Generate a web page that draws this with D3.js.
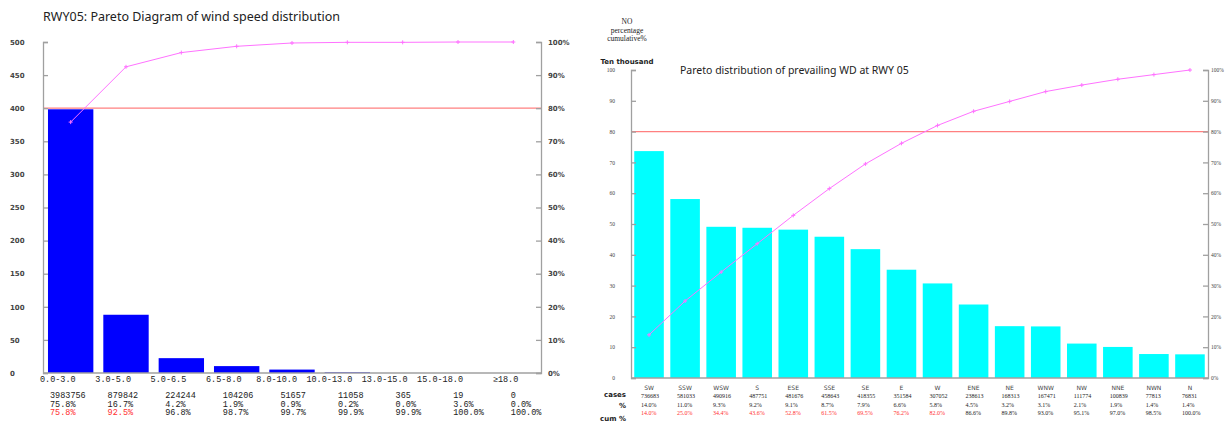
<!DOCTYPE html>
<html>
<head>
<meta charset="utf-8">
<script src="https://cdn.jsdelivr.net/npm/d3@7"></script>
<style>
  body { margin: 0; background: #fff; }
  svg text { fill: #222; }
</style>
</head>
<body>
<svg id="chart" width="1225" height="423"></svg>
<script>
// ---- left chart: wind speed ----
const speedCats = ['0.0-3.0', '3.0-5.0', '5.0-6.5', '6.5-8.0', '8.0-10.0', '10.0-13.0', '13.0-15.0', '15.0-18.0', '\u226518.0']
const speedCases = [3983756, 879842, 224244, 104206, 51657, 11058, 365, 19, 0]
const speedPct = ['75.8%', '16.7%', '4.2%', '1.9%', '0.9%', '0.2%', '0.0%', '3.6%', '0.0%']
const speedCum = [75.8, 92.5, 96.8, 98.7, 99.7, 99.9, 99.9, 100.0, 100.0]
const speedTicks = [0, 50, 100, 150, 200, 250, 300, 350, 400, 450, 500]

// ---- right chart: wind direction ----
const dirCats = ['SW', 'SSW', 'WSW', 'S', 'ESE', 'SSE', 'SE', 'E', 'W', 'ENE', 'NE', 'WNW', 'NW', 'NNE', 'NWN', 'N']
const dirCases = [736683, 581033, 490916, 487751, 481676, 458643, 418355, 351584, 307052, 238613, 168313, 167471, 111774, 100839, 77813, 76831]
const dirPct = ['14.0%', '11.0%', '9.3%', '9.2%', '9.1%', '8.7%', '7.9%', '6.6%', '5.8%', '4.5%', '3.2%', '3.1%', '2.1%', '1.9%', '1.4%', '1.4%']
const dirCum = [14.0, 25.0, 34.4, 43.6, 52.8, 61.5, 69.5, 76.2, 82.0, 86.6, 89.8, 93.0, 95.1, 97.0, 98.5, 100.0]
const dirTicks = [0, 10, 20, 30, 40, 50, 60, 70, 80, 90, 100]

const pctTicks = [0, 10, 20, 30, 40, 50, 60, 70, 80, 90, 100]
const cutoff = 80

const svg = d3.select('#chart')
const axisColor = '#a0a0a0'
const lineColor = '#ff72ff'
const refColor = '#ff8080'

function plus(g, x, y, s){
    g.append('line').attr('x1', x - s).attr('x2', x + s).attr('y1', y).attr('y2', y)
    g.append('line').attr('x1', x).attr('x2', x).attr('y1', y - s).attr('y2', y + s)
}

function drawPareto(opt){
    const g = svg.append('g')
    const x = d3.scaleBand().domain(opt.cats).range([opt.left, opt.right]).paddingInner(0.18).paddingOuter(0.09)
    const y = d3.scaleLinear().domain([0, opt.yMax]).range([opt.bottom, opt.top])
    const yp = d3.scaleLinear().domain([0, 100]).range([opt.bottom, opt.top])

    // bars (cases in ten thousands)
    g.selectAll('rect.bar').data(opt.cases).enter().append('rect')
        .attr('class', 'bar')
        .attr('x', (d, i) => x(opt.cats[i]))
        .attr('width', x.bandwidth())
        .attr('y', d => y(d / 10000))
        .attr('height', d => opt.bottom - y(d / 10000))
        .style('fill', opt.barColor)

    // 80% reference line
    g.append('line')
        .attr('x1', opt.left).attr('x2', opt.right)
        .attr('y1', yp(cutoff)).attr('y2', yp(cutoff))
        .style('stroke', refColor).style('stroke-width', 1.2)

    // axes
    const leftAxis = g.append('g').attr('transform', `translate(${opt.left},0)`)
        .call(d3.axisLeft(y).tickValues(opt.ticks).tickSize(-5).tickFormat(d3.format('d')))
    const rightAxis = g.append('g').attr('transform', `translate(${opt.right},0)`)
        .call(d3.axisRight(yp).tickValues(pctTicks).tickSize(-5).tickFormat(d => d + '%'))
    ;[leftAxis, rightAxis].forEach(a => {
        a.select('.domain').style('stroke', axisColor).style('stroke-width', 1.3)
        a.selectAll('.tick line').style('stroke', axisColor).style('stroke-width', 1.3)
        a.selectAll('.tick text').style('font-family', opt.tickFont).style('font-size', opt.tickSize)
            .style('font-weight', opt.tickWeight).style('fill', '#444')
    })
    leftAxis.selectAll('.tick text').attr('x', opt.leftLabelX - opt.left).attr('text-anchor', opt.leftLabelAnchor)
    rightAxis.selectAll('.tick text').attr('x', opt.rightLabelX - opt.right).attr('text-anchor', 'start')

    g.append('line')
        .attr('x1', opt.left).attr('x2', opt.right)
        .attr('y1', opt.bottom).attr('y2', opt.bottom)
        .style('stroke', axisColor).style('stroke-width', 1.3)

    // cumulative line
    const line = d3.line()
        .x((d, i) => x(opt.cats[i]) + x.bandwidth() / 2)
        .y(d => yp(d))
    g.append('path').datum(opt.cum)
        .attr('d', line)
        .style('fill', 'none').style('stroke', lineColor).style('stroke-width', 1)
    const marks = g.append('g').style('stroke', lineColor).style('stroke-width', 1)
    opt.cum.forEach((d, i) => plus(marks, x(opt.cats[i]) + x.bandwidth() / 2, yp(d), 2))

    // first cumulative value at or over the cutoff stays red
    const firstOver = opt.cum.findIndex(d => d >= cutoff)

    // category labels
    g.selectAll('text.cat').data(opt.cats).enter().append('text')
        .attr('class', 'cat')
        .attr('x', d => x(d) + x.bandwidth() / 2 + opt.catDx)
        .attr('y', opt.catY)
        .attr('text-anchor', opt.catAnchor)
        .style('font-family', opt.catFont)
        .style('font-size', opt.catSize)
        .style('fill', opt.catColor)
        .text(d => d)

    // table rows
    const rows = [
        {vals: opt.cases.map(d => String(d)), y: opt.rowY[0], red: false},
        {vals: opt.pct, y: opt.rowY[1], red: false},
        {vals: opt.cum.map(d => d.toFixed(1) + '%'), y: opt.rowY[2], red: true}
    ]
    rows.forEach(r => {
        g.selectAll(null).data(r.vals).enter().append('text')
            .attr('x', (d, i) => opt.rowX(i))
            .attr('y', r.y)
            .style('font-family', opt.rowFont)
            .style('font-size', opt.rowSize)
            .style('fill', (d, i) => (r.red && i <= firstOver) ? '#ff3030' : '#222')
            .text(d => d)
    })
    return {x, y}
}

// left panel
drawPareto({
    cats: speedCats, cases: speedCases, pct: speedPct, cum: speedCum, ticks: speedTicks, yMax: 500,
    left: 43, right: 541, top: 42, bottom: 373, barColor: '#0000ff',
    leftLabelX: 10, leftLabelAnchor: 'start', rightLabelX: 548,
    tickFont: 'DejaVu Sans', tickSize: '7px', tickWeight: 'bold',
    catDx: 5, catY: 382, catAnchor: 'end', catFont: 'Liberation Mono', catSize: '8.5px', catColor: '#222',
    rowX: i => 50 + 57.6 * i, rowY: [398, 406.5, 415], rowFont: 'Liberation Mono', rowSize: '8.5px'
})

svg.append('text').attr('x', 43).attr('y', 21)
    .style('font-family', 'Noto Sans').style('font-size', '12.5px').style('fill', '#222')
    .text('RWY05: Pareto Diagram of wind speed distribution')

// right panel
drawPareto({
    cats: dirCats, cases: dirCases, pct: dirPct, cum: dirCum, ticks: dirTicks, yMax: 100,
    left: 631, right: 1208, top: 70, bottom: 378, barColor: '#00ffff',
    leftLabelX: 615, leftLabelAnchor: 'end', rightLabelX: 1211,
    tickFont: 'Liberation Serif', tickSize: '5.5px', tickWeight: 'normal',
    catDx: 0, catY: 390, catAnchor: 'middle', catFont: 'DejaVu Sans', catSize: '6px', catColor: '#444',
    rowX: i => 641 + 36.06 * i, rowY: [398, 406.5, 415], rowFont: 'Liberation Serif', rowSize: '6px'
})

svg.append('text').attr('x', 680).attr('y', 74)
    .style('font-family', 'Noto Sans').style('font-size', '10.5px').style('fill', '#222')
    .text('Pareto distribution of prevailing WD at RWY 05')

const sideNotes = ['NO', 'percentage', 'cumulative%']
svg.selectAll('text.note').data(sideNotes).enter().append('text')
    .attr('class', 'note')
    .attr('x', 627).attr('y', (d, i) => 24 + i * 8.5)
    .attr('text-anchor', 'middle')
    .style('font-family', 'Liberation Serif').style('font-size', '7.5px').style('fill', '#222')
    .text(d => d)

svg.append('text').attr('x', 627).attr('y', 64).attr('text-anchor', 'middle')
    .style('font-family', 'DejaVu Sans').style('font-size', '7px').style('font-weight', 'bold')
    .text('Ten thousand')

const rowNames = [{t: 'cases', y: 397}, {t: '%', y: 408}, {t: 'cum %', y: 421}]
svg.selectAll('text.rowname').data(rowNames).enter().append('text')
    .attr('class', 'rowname')
    .attr('x', 626).attr('y', d => d.y).attr('text-anchor', 'end')
    .style('font-family', 'DejaVu Sans').style('font-size', '7px').style('font-weight', 'bold')
    .text(d => d.t)
</script>
</body>
</html>
